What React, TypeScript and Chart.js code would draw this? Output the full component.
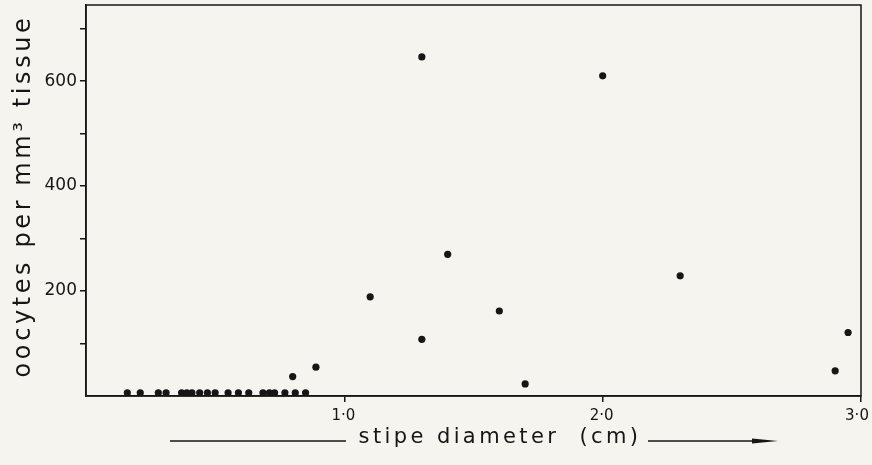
import React, { useEffect, useRef } from 'react';
import { Chart, registerables } from 'chart.js';

Chart.register(...registerables);

// Stipe diameter (cm) of specimens with (near) zero oocyte counts
const diameterLow = [0.16, 0.21, 0.28, 0.31, 0.37, 0.39, 0.41, 0.44, 0.47, 0.5, 0.55, 0.59, 0.63, 0.685, 0.71, 0.73, 0.77, 0.81, 0.85];
const oocytesLow = [6, 6, 6, 6, 6, 6, 6, 6, 6, 6, 6, 6, 6, 6, 6, 6, 6, 6, 6];

// Remaining specimens
const diameterHigh = [0.8, 0.89, 1.1, 1.3, 1.3, 1.4, 1.6, 1.7, 2.0, 2.3, 2.9, 2.95];
const oocytesHigh = [37, 55, 189, 646, 108, 270, 162, 23, 610, 229, 48, 121];

const yTicks = [100, 200, 300, 400, 500, 600, 700];
const yLabelled = [200, 400, 600];
const xTicks = [1, 2, 3];
const xTickLabels = ['1·0', '2·0', '3·0\u2009\u2009'];

const yTitle = 'oocytes per mm³ tissue';
const xTitle = 'stipe diameter  (cm)';

const INK = '#161616';
const FONT = 'DejaVu Sans';

const framePlugin = {
  id: 'frameAndTitles',
  afterDraw(chart: any) {
    const { ctx, chartArea } = chart;
    const { left, right, top, bottom } = chartArea;
    ctx.save();
    ctx.strokeStyle = INK;
    ctx.lineWidth = 1.5;
    ctx.strokeRect(left, top, right - left, bottom - top);

    // y title
    ctx.fillStyle = INK;
    ctx.font = `24px "${FONT}"`;
    (ctx as any).letterSpacing = '3.6px';
    ctx.textAlign = 'center';
    ctx.textBaseline = 'middle';
    ctx.translate(24, 196);
    ctx.rotate(-Math.PI / 2);
    ctx.fillText(yTitle, 0, 0);
    ctx.restore();

    // x title with arrow lines
    ctx.save();
    ctx.fillStyle = INK;
    ctx.strokeStyle = INK;
    ctx.font = `21px "${FONT}"`;
    (ctx as any).letterSpacing = '3.4px';
    ctx.textAlign = 'center';
    ctx.textBaseline = 'middle';
    ctx.fillText(xTitle, 500, 438);
    ctx.lineWidth = 1.6;
    ctx.beginPath();
    ctx.moveTo(170, 441);
    ctx.lineTo(346, 441);
    ctx.moveTo(648, 441);
    ctx.lineTo(762, 441);
    ctx.stroke();
    ctx.beginPath();
    ctx.moveTo(752, 438.5);
    ctx.lineTo(778, 441);
    ctx.lineTo(752, 443.5);
    ctx.closePath();
    ctx.fill();
    ctx.restore();
  },
};

const zeroPad = (s: any) => {
  s.paddingLeft = 0;
  s.paddingRight = 0;
  s.paddingTop = 0;
  s.paddingBottom = 0;
};

export default function App() {
  const ref = useRef<HTMLCanvasElement | null>(null);

  useEffect(() => {
    document.body.style.margin = '0';
    document.body.style.background = '#f6f4ee';
    if (!ref.current) return;
    const chart = new Chart(ref.current, {
      type: 'scatter',
      data: {
        datasets: [
          {
            label: 'low',
            data: diameterLow.map((x, i) => ({ x, y: oocytesLow[i] })),
            backgroundColor: INK,
            borderWidth: 0,
            pointRadius: 3.6,
            clip: 0,
          },
          {
            label: 'high',
            data: diameterHigh.map((x, i) => ({ x, y: oocytesHigh[i] })),
            backgroundColor: INK,
            borderWidth: 0,
            pointRadius: 3.6,
            clip: 0,
          },
        ],
      },
      plugins: [framePlugin],
      options: {
        animation: false,
        responsive: false,
        maintainAspectRatio: false,
        layout: { padding: { top: 5, right: 11, left: 0, bottom: 0 } },
        plugins: { legend: { display: false }, tooltip: { enabled: false }, title: { display: false } },
        scales: {
          x: {
            type: 'linear',
            min: 0,
            max: 3,
            afterBuildTicks: (s: any) => {
              s.ticks = xTicks.map((v) => ({ value: v }));
            },
            afterFit: (s: any) => {
              s.height = 69;
              zeroPad(s);
            },
            grid: { drawOnChartArea: false, tickLength: 6, color: INK, lineWidth: 1.5 },
            border: { display: true, color: INK, width: 1.5 },
            ticks: {
              color: INK,
              padding: 5,
              maxRotation: 0,
              autoSkip: false,
              labelOffset: -1,
              font: { family: FONT, size: 15 },
              callback: (v: any) => {
                const i = xTicks.indexOf(Number(v));
                return i >= 0 ? xTickLabels[i] : '';
              },
            },
          },
          y: {
            type: 'linear',
            min: 0,
            max: 745,
            afterBuildTicks: (s: any) => {
              s.ticks = yTicks.map((v) => ({ value: v }));
            },
            afterFit: (s: any) => {
              s.width = 86;
              zeroPad(s);
            },
            grid: { drawOnChartArea: false, tickLength: 6, color: INK, lineWidth: 1.5 },
            border: { display: true, color: INK, width: 1.5 },
            ticks: {
              color: INK,
              padding: 3,
              autoSkip: false,
              font: { family: FONT, size: 17 },
              callback: (v: any) => (yLabelled.includes(Number(v)) ? String(v) : ''),
            },
          },
        },
      },
    });
    return () => chart.destroy();
  }, []);

  return (
    <div style={{ position: 'fixed', left: 0, top: 0, width: 872, height: 465, background: '#f6f4ee' }}>
      <canvas ref={ref} width={872} height={465} style={{ width: 872, height: 465, display: 'block' }} />
    </div>
  );
}
